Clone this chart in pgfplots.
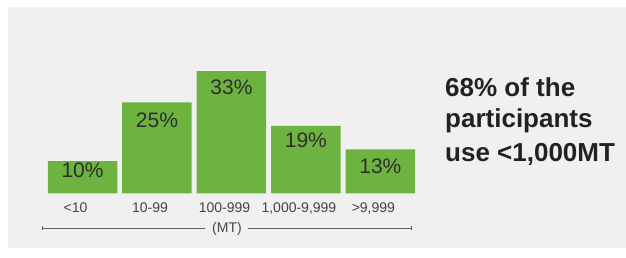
\documentclass[border=0pt]{standalone}
\usepackage{pgfplots}
\pgfplotsset{compat=1.18}
\usepackage{fontspec}
\setmainfont{Liberation Sans}
\definecolor{bg}{HTML}{F0F0F0}
\definecolor{bargreen}{HTML}{6CB33F}
\definecolor{txt}{HTML}{2E2E2E}
\definecolor{ticktxt}{HTML}{444444}
\definecolor{linegray}{HTML}{5E5E5E}
\definecolor{bigtxt}{HTML}{222222}
\begin{document}
\begin{tikzpicture}[x=1pt,y=1pt]
\fill[white] (0,0) rectangle (626,257);
\fill[bg] (8,9) rectangle (626,250);
\begin{axis}[
  at={(45.3pt,63.7pt)}, anchor=south west,
  scale only axis, width=372.3pt, height=130.1pt,
  xmin=-0.5, xmax=4.5, ymin=1.75, ymax=35,
  /pgf/number format/assume math mode=true,
  axis line style={draw=none}, major tick length=0pt,
  ytick=\empty,
  xtick={0,1,2,3,4},
  xticklabels={<10,10-99,100-999,{1,000-9,999},{>9,999}},
  xticklabel style={font=\fontsize{14}{14}\selectfont, text=ticktxt, anchor=base, yshift=-19pt, xshift=-7pt},
]
\addplot[ybar, bar width=69.5pt, fill=bargreen, draw=none] coordinates {(0,10) (1,25) (2,33) (3,19) (4,13)};
\addplot[draw=none, mark=none, point meta=explicit,
  nodes near coords={\pgfmathprintnumber{\pgfplotspointmeta}\%},
  nodes near coords style={anchor=center, font=\fontsize{21}{21}\selectfont, text=txt}]
  table[x=x, y=ly, meta=v] {
x ly v
0 7.7 10
1 20.5 25
2 28.75 33
3 15.4 19
4 8.55 13
};
\end{axis}
% axis unit line
\draw[linegray, line width=1.1pt] (42.5,28.7) -- (205,28.7);
\draw[linegray, line width=1.1pt] (248,28.7) -- (411,28.7);
\draw[linegray, line width=0.9pt] (42.5,26.7) -- (42.5,30.7);
\draw[linegray, line width=0.9pt] (411,26.7) -- (411,30.7);
\node[text=ticktxt, font=\fontsize{14}{14}\selectfont, anchor=center] at (227,28.2) {(MT)};
% right text
\node[anchor=base west, inner sep=0pt, text=bigtxt, font=\fontsize{26}{26}\selectfont\bfseries] at (445,160) {68\% of the};
\node[anchor=base west, inner sep=0pt, text=bigtxt, font=\fontsize{26}{26}\selectfont\bfseries] at (445,129) {participants};
\node[anchor=base west, inner sep=0pt, text=bigtxt, font=\fontsize{26}{26}\selectfont\bfseries] at (445,95) {use <1,000MT};
\end{tikzpicture}
\end{document}
